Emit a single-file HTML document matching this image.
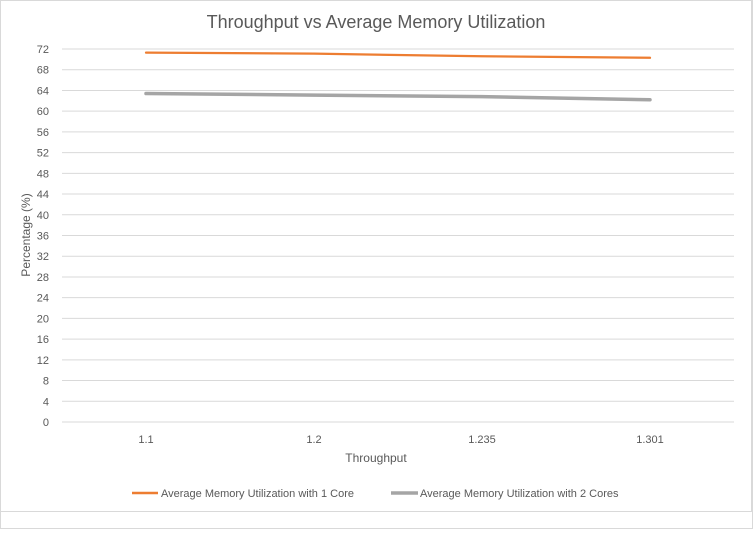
<!DOCTYPE html>
<html><head><meta charset="utf-8">
<style>
body{margin:0;background:#fff;font-family:"Liberation Sans",sans-serif;}
svg text{font-family:"Liberation Sans",sans-serif;}
</style></head>
<body>
<svg width="753" height="529" xmlns="http://www.w3.org/2000/svg">
<rect x="0.5" y="0.5" width="752" height="528" fill="#fff" stroke="#d9d9d9"/>
<rect x="0.5" y="0.5" width="751" height="511" fill="#fff" stroke="#d9d9d9"/>
<text x="376" y="28" text-anchor="middle" font-size="18" fill="#595959">Throughput vs Average Memory Utilization</text>
<g id="grid"></g>
<g id="yticks"></g>
<g id="xticks"></g>
<g id="series"></g>
<text x="376" y="462" text-anchor="middle" font-size="12" fill="#595959">Throughput</text>
<text transform="translate(30,235) rotate(-90)" text-anchor="middle" font-size="12" fill="#595959">Percentage (%)</text>
<g>
<g>
<line x1="132" y1="493" x2="158" y2="493" stroke="#ed7d31" stroke-width="2.5"/>
<text x="161" y="497" font-size="11" fill="#595959">Average Memory Utilization with 1 Core</text>
</g>
<g>
<line x1="391" y1="493" x2="418" y2="493" stroke="#a5a5a5" stroke-width="3.5"/>
<text x="420" y="497" font-size="11" fill="#595959">Average Memory Utilization with 2 Cores</text>
</g>
</g>
</svg>
<script>
const categories=["1.1","1.2","1.235","1.301"];
const oneCore=[71.3,71.1,70.6,70.3];
const twoCores=[63.4,63.1,62.8,62.2];
const yTicks=[0,4,8,12,16,20,24,28,32,36,40,44,48,52,56,60,64,68,72];
const NS="http://www.w3.org/2000/svg";
const plotLeft=62,plotRight=734,plotTop=49,plotBottom=422,yMax=72;
function yPos(v){return plotBottom-(v/yMax)*(plotBottom-plotTop);}
function xPos(i){const w=(plotRight-plotLeft)/categories.length;return plotLeft+w*(i+0.5);}
function mk(t,a,p){const e=document.createElementNS(NS,t);for(const k in a)e.setAttribute(k,a[k]);p.appendChild(e);return e;}
const gridG=document.getElementById('grid'),ytG=document.getElementById('yticks'),xtG=document.getElementById('xticks'),serG=document.getElementById('series');
yTicks.forEach(v=>{
 const l=mk('line',{x1:plotLeft,x2:plotRight,y1:yPos(v),y2:yPos(v),stroke:'#d9d9d9','stroke-width':1},gridG);
 
 
 const t=mk('text',{x:49,y:yPos(v)+4,'text-anchor':'end','font-size':11,fill:'#595959'},ytG);
 t.textContent=v;
 
 
});
categories.forEach((c,i)=>{
 const t=mk('text',{x:xPos(i),y:443,'text-anchor':'middle','font-size':11,fill:'#595959'},xtG);
 t.textContent=c;
 
 
});
function drawLine(vals,color,w,name){
 const p=mk('polyline',{points:vals.map((v,i)=>xPos(i)+','+yPos(v)).join(' '),fill:'none',stroke:color,'stroke-width':w,'stroke-linecap':'round'},serG);
 
 
}
drawLine(twoCores,'#a5a5a5',3.5,'series-2-cores-line');
drawLine(oneCore,'#ed7d31',2.25,'series-1-core-line');
</script>
</body></html>
